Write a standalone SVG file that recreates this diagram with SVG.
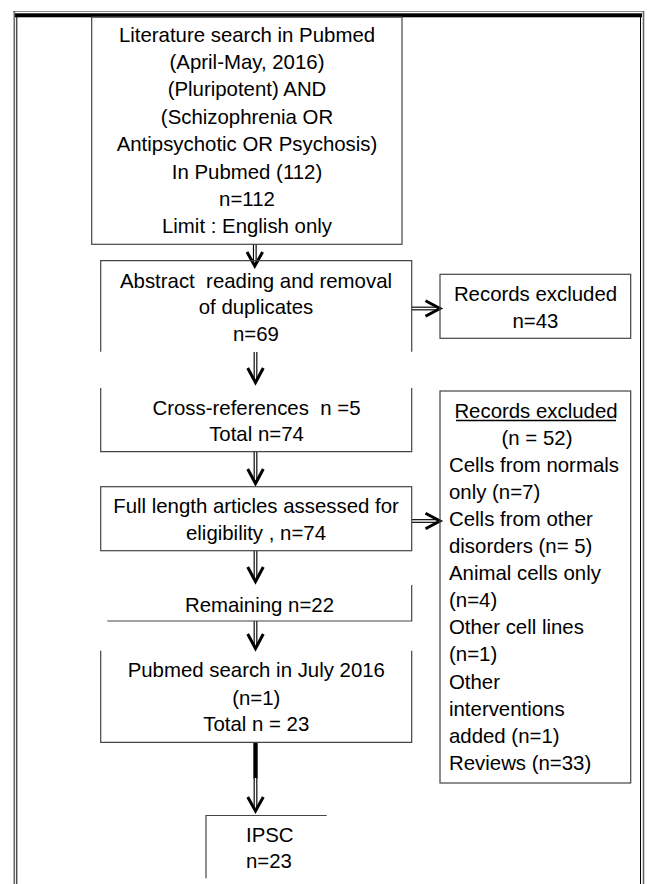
<svg xmlns="http://www.w3.org/2000/svg" width="654" height="884" viewBox="0 0 654 884">
<style>
.t{font-family:"Liberation Sans",Arial,sans-serif;font-size:20.4px;fill:#000;text-anchor:middle;white-space:pre}
.l{text-anchor:start}
.box{fill:none;stroke:#444;stroke-width:1.2}
.dblo{stroke:#000;stroke-width:3.8;fill:none}
.dbli{stroke:#fff;stroke-width:1.5;fill:none}
.chev{fill:none;stroke:#000;stroke-width:3;stroke-linejoin:miter;stroke-linecap:butt}
.thick{stroke:#000;stroke-width:4.4}
</style>
<rect x="0" y="0" width="654" height="884" fill="#fff"/>
<g id="frame">
<line x1="13" y1="11.5" x2="644" y2="11.5" stroke="#888" stroke-width="1"/>
<rect x="14" y="13.3" width="628" height="4" fill="#000"/>
<line x1="14.3" y1="11" x2="14.3" y2="884" stroke="#666" stroke-width="1.6"/>
<line x1="16.8" y1="17" x2="16.8" y2="884" stroke="#000" stroke-width="1"/>
<line x1="640.5" y1="17" x2="640.5" y2="884" stroke="#000" stroke-width="1"/>
<line x1="643.5" y1="11" x2="643.5" y2="884" stroke="#666" stroke-width="1.6"/>
</g>
<g id="connectors">
<g id="c1"><line class="dblo" x1="254.8" y1="244" x2="254.8" y2="264"/><line class="dbli" x1="254.8" y1="244" x2="254.8" y2="264"/><path class="chev" d="M247 252 L254.8 266 L262.6 252"/></g>
<g id="c2"><line class="dblo" x1="255.5" y1="352" x2="255.5" y2="381"/><line class="dbli" x1="255.5" y1="352" x2="255.5" y2="381"/><path class="chev" d="M247.7 368 L255.5 382.5 L263.3 368"/></g>
<g id="c3"><line class="dblo" x1="255.5" y1="452" x2="255.5" y2="482"/><line class="dbli" x1="255.5" y1="452" x2="255.5" y2="482"/><path class="chev" d="M247.7 469 L255.5 483.5 L263.3 469"/></g>
<g id="c4"><line class="dblo" x1="255.5" y1="551" x2="255.5" y2="580"/><line class="dbli" x1="255.5" y1="551" x2="255.5" y2="580"/><path class="chev" d="M247.7 567 L255.5 581.5 L263.3 567"/></g>
<g id="c5"><line class="dblo" x1="255.5" y1="621" x2="255.5" y2="646"/><line class="dbli" x1="255.5" y1="621" x2="255.5" y2="646"/><path class="chev" d="M247.7 634 L255.5 648.5 L263.3 634"/></g>
<g id="c6"><line class="thick" x1="255.5" y1="742" x2="255.5" y2="778.5"/><line class="dblo" x1="255.5" y1="778" x2="255.5" y2="809"/><line class="dbli" x1="255.5" y1="778" x2="255.5" y2="809"/><path class="chev" d="M247.7 797 L255.5 811 L263.3 797"/></g>
<g id="c7"><line class="dblo" x1="412" y1="308.5" x2="438" y2="308.5"/><line class="dbli" x1="412" y1="308.5" x2="438" y2="308.5"/><path class="chev" d="M425.5 300.7 L440 308.5 L425.5 316.3"/></g>
<g id="c8"><line class="dblo" x1="412" y1="521" x2="438" y2="521"/><line class="dbli" x1="412" y1="521" x2="438" y2="521"/><path class="chev" d="M425.5 513.2 L440 521 L425.5 528.8"/></g>
</g>
<g id="n1">
<rect class="box" x="91.7" y="17" width="310.3" height="227.3" stroke="#222"/>
<text class="t" x="247" y="41.7">Literature search in Pubmed</text>
<text class="t" x="247" y="69.1">(April-May, 2016)</text>
<text class="t" x="247" y="96.4">(Pluripotent) AND</text>
<text class="t" x="247" y="123.8">(Schizophrenia OR</text>
<text class="t" x="247" y="151.2">Antipsychotic OR Psychosis)</text>
<text class="t" x="247" y="178.5">In Pubmed (112)</text>
<text class="t" x="247" y="205.9">n=112</text>
<text class="t" x="247" y="233.3">Limit : English only</text>
</g>
<g id="n2">
<path class="box" d="M100.7 351.7 V260.7 H411.7 V351.7"/>
<text class="t" x="256" y="287.5">Abstract  reading and removal</text>
<text class="t" x="256" y="314">of duplicates</text>
<text class="t" x="256" y="340.5">n=69</text>
</g>
<g id="n3">
<rect class="box" x="440" y="274.3" width="190.7" height="64"/>
<text class="t" x="535.5" y="301">Records excluded</text>
<text class="t" x="535.5" y="328.3">n=43</text>
</g>
<g id="n4">
<path class="box" d="M100.7 388 V451.7 H411.7 V388"/>
<text class="t" x="256.5" y="415">Cross-references  n =5</text>
<text class="t" x="256.5" y="441">Total n=74</text>
</g>
<g id="n5">
<rect class="box" x="440" y="391" width="190.7" height="392"/>
<text class="t" x="536" y="417.5">Records excluded</text>
<line x1="456" y1="420.5" x2="616" y2="420.5" stroke="#000" stroke-width="1.6"/>
<text class="t" x="537" y="444.6">(n = 52)</text>
<text class="t l" x="449" y="471.7">Cells from normals</text>
<text class="t l" x="449" y="498.8">only (n=7)</text>
<text class="t l" x="449" y="525.9">Cells from other</text>
<text class="t l" x="449" y="553">disorders (n= 5)</text>
<text class="t l" x="449" y="580.1">Animal cells only</text>
<text class="t l" x="449" y="607.2">(n=4)</text>
<text class="t l" x="449" y="634.3">Other cell lines</text>
<text class="t l" x="449" y="661.4">(n=1)</text>
<text class="t l" x="449" y="688.5">Other</text>
<text class="t l" x="449" y="715.6">interventions</text>
<text class="t l" x="449" y="742.7">added (n=1)</text>
<text class="t l" x="449" y="769.8">Reviews (n=33)</text>
</g>
<g id="n6">
<rect class="box" x="100.7" y="486.7" width="311" height="64"/>
<text class="t" x="256" y="513.3">Full length articles assessed for</text>
<text class="t" x="256" y="540">eligibility , n=74</text>
</g>
<g id="n7">
<path class="box" d="M411.7 585 V621 H107.3"/>
<text class="t" x="259.5" y="611.7">Remaining n=22</text>
</g>
<g id="n8">
<path class="box" d="M100.7 650.7 V742.3 H411.7 V650.7"/>
<text class="t" x="256.3" y="676.7">Pubmed search in July 2016</text>
<text class="t" x="256.3" y="705">(n=1)</text>
<text class="t" x="256.3" y="730.7">Total n = 23</text>
</g>
<g id="n9">
<path class="box" d="M206 878.3 V815.5 H326.7" stroke="#222"/>
<text class="t l" x="246" y="841.7">IPSC</text>
<text class="t l" x="246" y="868.3">n=23</text>
</g>
</svg>
